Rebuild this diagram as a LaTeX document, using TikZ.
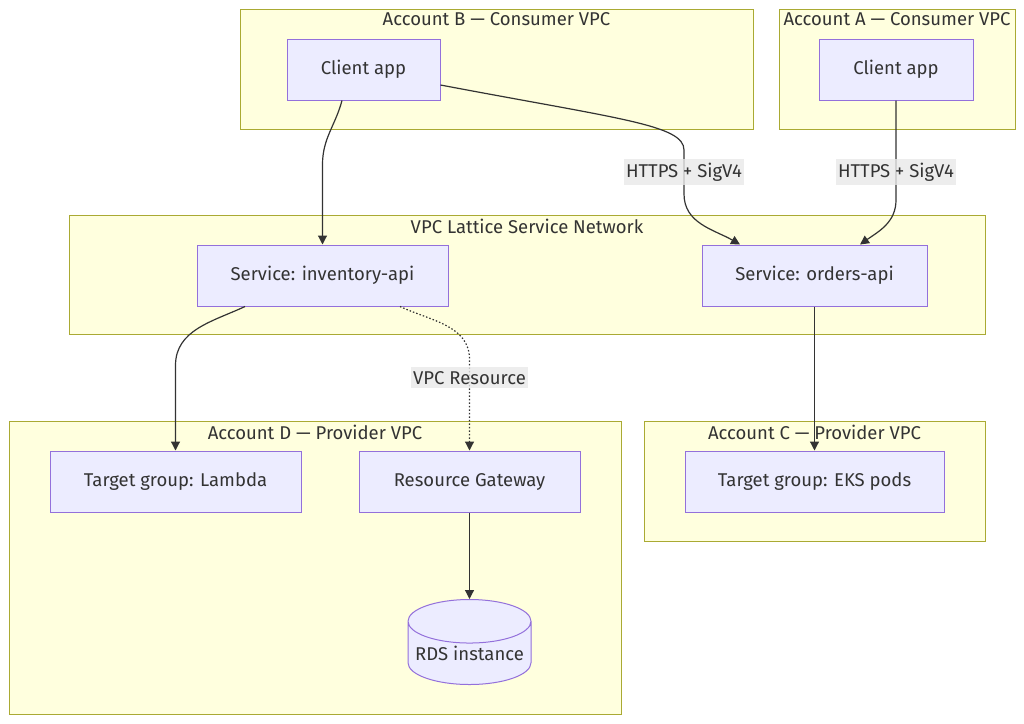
\documentclass[tikz,border=0pt]{standalone}
\usepackage{fontspec}
\setmainfont{Fira Sans}
\usetikzlibrary{arrows.meta,positioning,shapes.geometric}
\definecolor{clfill}{HTML}{FFFFDE}
\definecolor{cldraw}{HTML}{AAAA33}
\definecolor{ndfill}{HTML}{ECECFF}
\definecolor{nddraw}{HTML}{9370DB}
\definecolor{ink}{HTML}{333333}
\definecolor{lblfill}{HTML}{E8E8E8}

\begin{document}
\begin{tikzpicture}[
    x=1pt, y=-1pt,
    font=\fontsize{18.5}{22}\selectfont, text=ink,
    cluster/.style={draw=cldraw, fill=clfill, line width=1pt, inner sep=0pt},
    box/.style={draw=nddraw, fill=ndfill, line width=1pt, inner sep=0pt,
                minimum height=61pt},
    db/.style={box, cylinder, shape border rotate=90, aspect=0.4},
    ttl/.style={anchor=north, inner sep=2pt},
    lbl/.style={fill=lblfill, fill opacity=0.8, text opacity=1,
                inner xsep=2pt, inner ysep=4pt},
    arr/.style={-{Triangle[length=9pt,width=9pt]}, draw=ink, line width=1.2pt},
    dots/.style={dash pattern=on 1.5pt off 2pt}]
    \useasboundingbox (0,0) rectangle (1024,723);
    % account groups
    \node[cluster, minimum width=513pt, minimum height=120pt] (acctB) at (496.5,69) {};
    \node[cluster, minimum width=236pt, minimum height=120pt] (acctA) at (897,69) {};
    \node[cluster, minimum width=916pt, minimum height=119pt] (lattice) at (527,274.5) {};
    \node[cluster, minimum width=612pt, minimum height=293pt] (acctD) at (315,567.5) {};
    \node[cluster, minimum width=341pt, minimum height=120pt] (acctC) at (814.5,481) {};
    \node[ttl] (acctBt) at ([yshift=-2pt]acctB.north) {Account B — Consumer VPC};
    \node[ttl] (acctAt) at ([yshift=-2pt]acctA.north) {Account A — Consumer VPC};
    \node[ttl] (latticet) at ([yshift=-2pt]lattice.north) {VPC Lattice Service Network};
    \node[ttl] (acctDt) at ([yshift=-2pt]acctD.north) {Account D — Provider VPC};
    \node[ttl] (acctCt) at ([yshift=-2pt]acctC.north) {Account C — Provider VPC};
    % services and targets
    \node[box, minimum width=153pt] (clientB) at (363.5,69.5) {Client app};
    \node[box, minimum width=154pt] (clientA) at (896,69.5) {Client app};
    \node[box, minimum width=251pt] (inv) at (322.5,275.5) {Service: inventory-api};
    \node[box, minimum width=225pt] (orders) at (814.5,275.5) {Service: orders-api};
    \node[box, minimum width=251pt] (lambda) at (175.5,481.5) {Target group: Lambda};
    \node[box, minimum width=221pt] (resgw) at (469.5,481.5) {Resource Gateway};
    \node[box, minimum width=259pt] (eks) at (814.5,481.5) {Target group: EKS pods};
    \node[db, minimum width=123pt, minimum height=85pt, anchor=north] (rds) at (469.5,599) {RDS instance};
    % connectors
    \draw[arr] ([xshift=-21.5pt]clientB.south) to[out=-105,in=90]
        ([yshift=80pt]inv.north) -- (inv.north);
    \draw[arr] ([yshift=-15.5pt]clientB.east) .. controls (620,119) and (684,125) .. (684,150)
        -- node[lbl, pos=0.5]{HTTPS + SigV4} (684,194)
        to[out=-90,in=150] ([xshift=-74.5pt]orders.north);
    \draw[arr] (clientA.south) -- node[lbl, pos=0.72]{HTTPS + SigV4} (896,200)
        to[out=-90,in=35] ([xshift=45.5pt]orders.north);
    \draw[arr] ([xshift=-77.5pt]inv.south) to[out=-155,in=90]
        ([yshift=85pt]lambda.north) -- (lambda.north);
    \draw[arr, dots] ([xshift=77.5pt]inv.south) to[out=-25,in=90]
        ([yshift=91pt]resgw.north) -- node[lbl, pos=0.2]{VPC Resource} (resgw.north);
    \draw[arr] (orders.south) -- (eks.north);
    \draw[arr] (resgw.south) -- (rds.north);
\end{tikzpicture}
\end{document}
